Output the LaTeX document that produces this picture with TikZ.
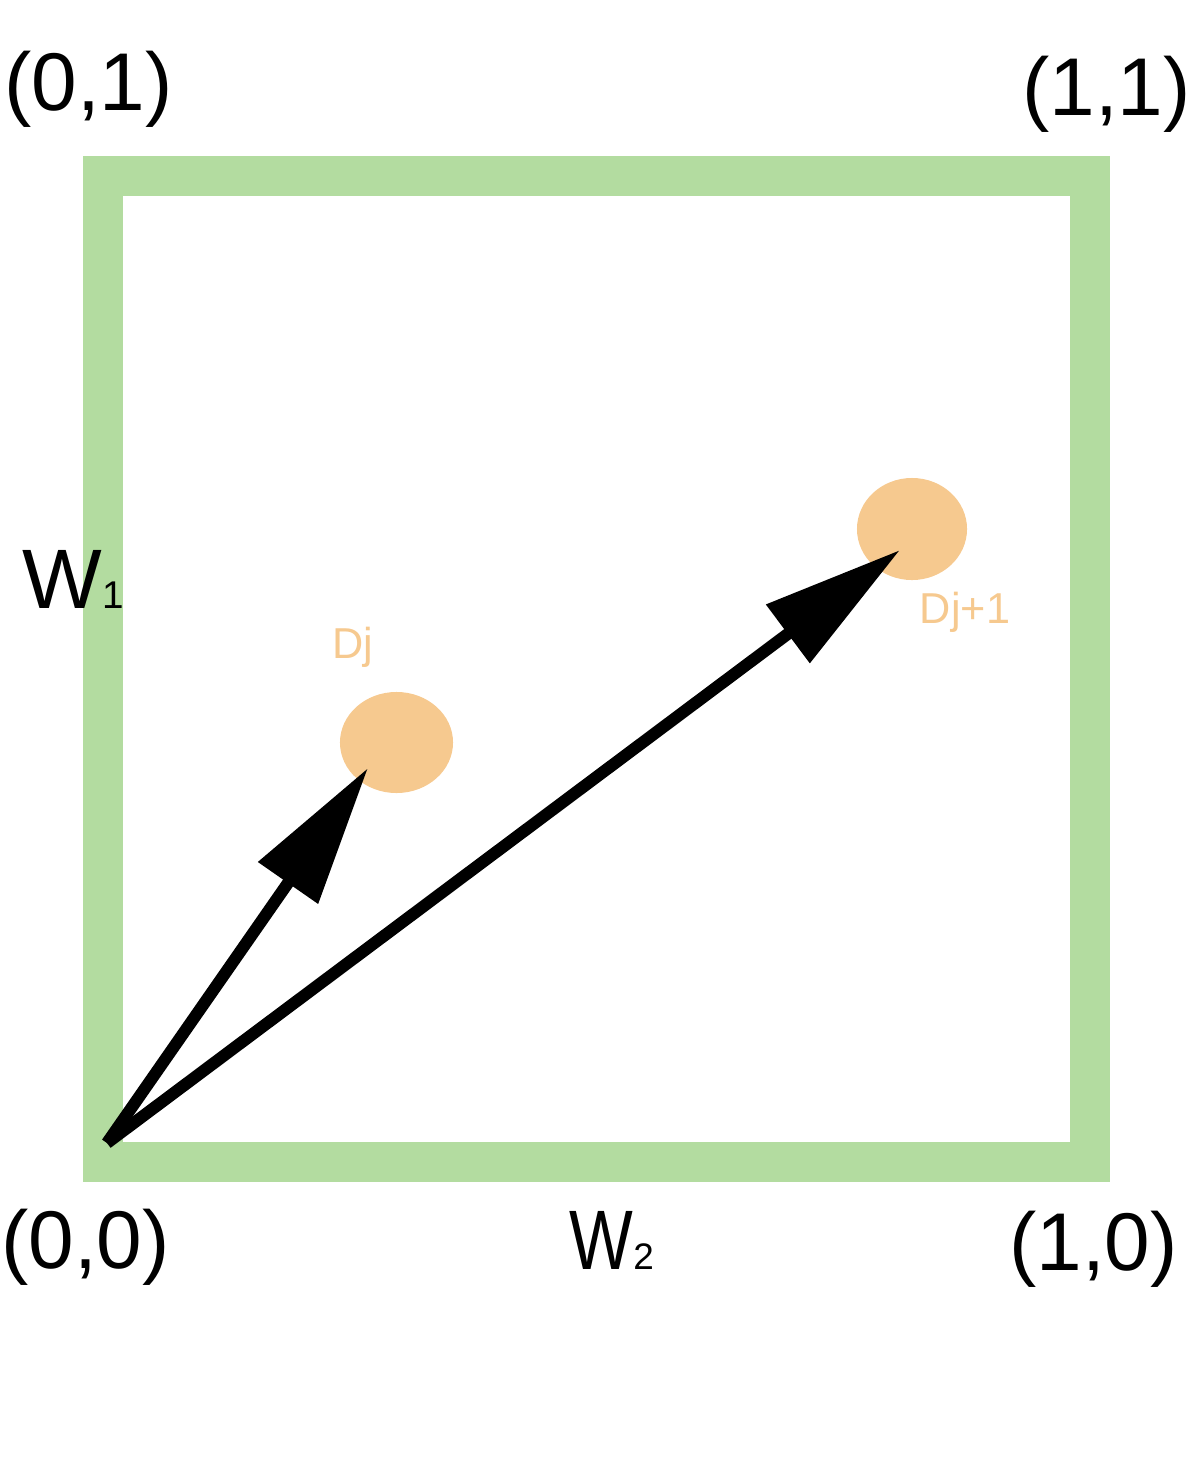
\documentclass[tikz,border=0pt]{standalone}
\usepackage{fontspec}
\setmainfont{Liberation Sans}
\usetikzlibrary{arrows.meta,shapes.geometric}
\definecolor{boxgreen}{RGB}{179,220,160}
\definecolor{dotorange}{RGB}{246,201,143}
\tikzset{
  frame/.style={draw=boxgreen,line width=0.4cm},
  dot/.style={ellipse,fill=dotorange,draw=none,inner sep=0pt,minimum width=1.13cm,minimum height=1.01cm},
  vec/.style={line width=0.12cm,-{Triangle[length=1.4cm,width=0.7cm]}},
  corner/.style={inner sep=0pt,anchor=base,font=\fontsize{23.3}{28}\selectfont},
  axis/.style={inner sep=0pt,anchor=base west},
  dlabel/.style={inner sep=0pt,anchor=base,text=dotorange,font=\fontsize{12.3}{15}\selectfont}
}
\begin{document}
\begin{tikzpicture}[x=0.01cm,y=-0.01cm]
\useasboundingbox (0,0) rectangle (1200,1457);
\draw[frame] (103,176) rectangle (1090,1162);
\node[dot] (d1) at (396.5,742.5) {};
\node[dot,minimum width=1.10cm,minimum height=1.02cm] (d2) at (912,529) {};
\coordinate (O) at (107,1143);
\coordinate (t1) at (368,768);
\coordinate (t2) at (900,550);
\draw[vec] (O) -- (t1);
\draw[vec] (O) -- (t2);
\node[corner] (c01) at (88.5,110) {(0,1)};
\node[corner] (c11) at (1106.5,115) {(1,1)};
\node[corner] (c00) at (85.5,1268) {(0,0)};
\node[corner] (c10) at (1093.5,1270) {(1,0)};
\node[axis] (w1) at (22,608) {{\fontsize{24}{28}\selectfont W}{\fontsize{11}{12}\selectfont 1}};
\node[axis] (w2) at (569,1269) {\scalebox{0.8}[1]{\fontsize{24}{28}\selectfont W}{\fontsize{10.5}{12}\selectfont 2}};
\node[dlabel] (l1) at (353,658) {Dj};
\node[dlabel] (l2) at (965,623) {Dj+1};
\end{tikzpicture}
\end{document}
